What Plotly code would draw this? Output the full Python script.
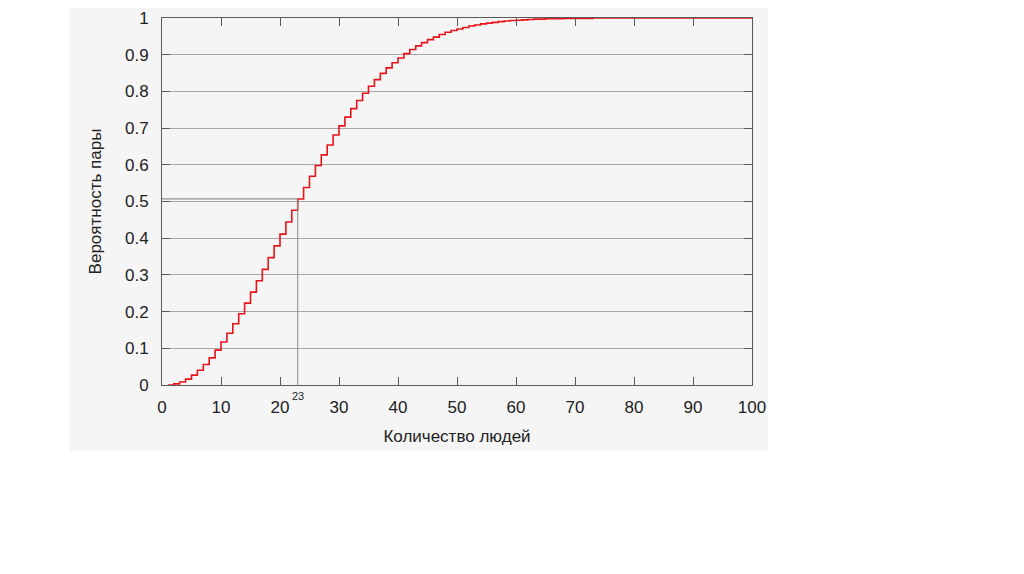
import plotly.graph_objects as go

people = list(range(1, 101))
prob = [
    0.000, 0.003, 0.008, 0.016, 0.027, 0.040, 0.056, 0.074, 0.095, 0.117,
    0.141, 0.167, 0.194, 0.223, 0.253, 0.284, 0.315, 0.347, 0.379, 0.411,
    0.444, 0.476, 0.507, 0.538, 0.569, 0.598, 0.627, 0.654, 0.681, 0.706,
    0.730, 0.753, 0.775, 0.795, 0.814, 0.832, 0.849, 0.864, 0.878, 0.891,
    0.903, 0.914, 0.924, 0.933, 0.941, 0.948, 0.955, 0.961, 0.966, 0.970,
    0.974, 0.978, 0.981, 0.984, 0.986, 0.988, 0.990, 0.992, 0.993, 0.994,
    0.995, 0.996, 0.997, 0.997, 0.998, 0.998, 0.998, 0.999, 0.999, 0.999,
    0.999, 0.999, 1.000, 1.000, 1.000, 1.000, 1.000, 1.000, 1.000, 1.000,
    1.000, 1.000, 1.000, 1.000, 1.000, 1.000, 1.000, 1.000, 1.000, 1.000,
    1.000, 1.000, 1.000, 1.000, 1.000, 1.000, 1.000, 1.000, 1.000, 1.000,
]
x_ticks = [0, 10, 20, 30, 40, 50, 60, 70, 80, 90, 100]
y_ticks = [0, 0.1, 0.2, 0.3, 0.4, 0.5, 0.6, 0.7, 0.8, 0.9, 1]
y_tick_labels = ["0", "0.1", "0.2", "0.3", "0.4", "0.5", "0.6", "0.7", "0.8", "0.9", "1"]
marker_n = 23
marker_p = prob[people.index(marker_n)]

FONT = "Liberation Sans, Arial, sans-serif"
AX = "#5a5a5a"
GRID = "#a8a8a8"

fig = go.Figure()
fig.add_trace(go.Scatter(
    x=people, y=prob, mode="lines", line=dict(color="#e8141c", width=1.6, shape="hv"),
    showlegend=False, hoverinfo="x+y",
))

shapes = [
    # light background panel
    dict(type="rect", xref="paper", yref="paper", x0=-92/590, x1=(768-162)/590,
         y0=(386-452)/367, y1=(386-0)/367, fillcolor="#f5f5f5", line=dict(width=0), layer="below"),
    # reference lines for 23 people
    dict(type="line", xref="x", yref="y", x0=marker_n, x1=marker_n, y0=0, y1=marker_p,
         line=dict(color="#8a8a8a", width=1)),
    dict(type="line", xref="x", yref="y", x0=0, x1=marker_n, y0=marker_p, y1=marker_p,
         line=dict(color="#7a7a7a", width=1)),
]

fig.update_layout(
    width=1024, height=574,
    margin=dict(l=154, r=280, t=10, b=197),
    paper_bgcolor="white", plot_bgcolor="rgba(0,0,0,0)",
    font=dict(family=FONT, size=17, color="#222222"),
    shapes=shapes,
    annotations=[dict(x=marker_n, y=0, xref="x", yref="y", text=str(marker_n), showarrow=False,
                      yshift=-11, font=dict(size=11, color="#222222"))],
)
fig.update_xaxes(
    range=[0, 100], tickvals=x_ticks, ticks="inside", ticklen=8, tickcolor=AX,
    showline=True, linecolor=AX, linewidth=1, mirror="ticks", showgrid=False, zeroline=False,
    ticklabelstandoff=7, automargin="bottom",
    title=dict(text="Количество людей", standoff=13, font=dict(size=17)),
    tickfont=dict(size=17),
)
fig.update_yaxes(
    range=[0, 1], tickvals=y_ticks, ticktext=y_tick_labels, ticks="inside", ticklen=8, tickcolor=AX,
    showline=True, linecolor=AX, linewidth=1, mirror="ticks", showgrid=True, gridcolor=GRID,
    gridwidth=1, zeroline=False, ticklabelstandoff=9, automargin="left",
    title=dict(text="Вероятность пары", standoff=19, font=dict(size=17)),
    tickfont=dict(size=17),
)

fig.write_html("out.html")
